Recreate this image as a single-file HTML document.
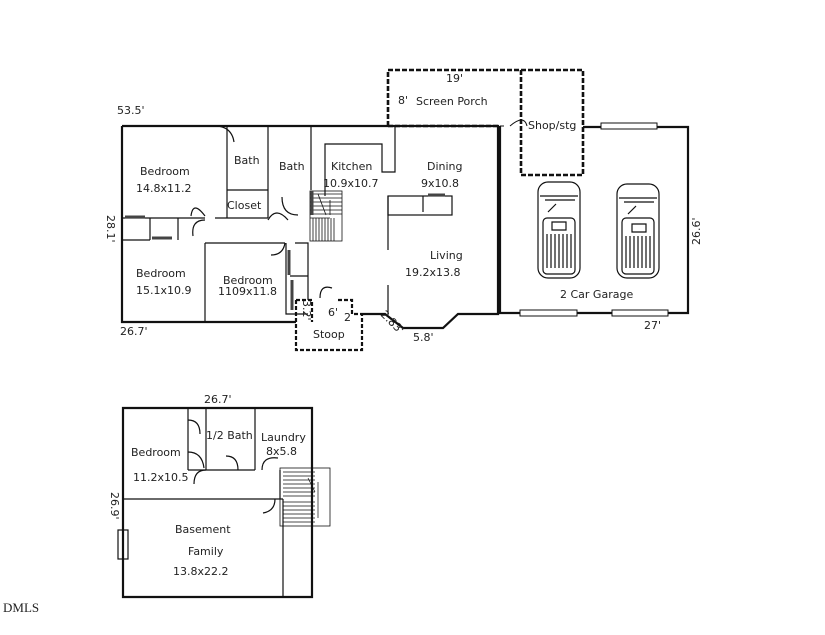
<!DOCTYPE html>
<html><head><meta charset="utf-8"><style>
html,body{margin:0;padding:0;background:#fff;width:825px;height:635px;overflow:hidden}
svg text{font-family:"DejaVu Sans","Liberation Sans",sans-serif;font-size:11px;fill:#222}
</style></head><body>
<svg width="825" height="635" viewBox="0 0 825 635" xmlns="http://www.w3.org/2000/svg">
<g fill="none" stroke="#111">
<path d="M122,126 H498 V314 H458 L443,328 H403 L385,314 H362 M296,322 H122 V126" stroke-width="2.2"/>
<path d="M296,300 H312 V322 M296,300 V350 H362 V314 M338,300 H352 V314 H362" stroke-width="2.2" stroke-dasharray="4,2"/>
<path d="M388,126 V70 H583 V175 H521 V126 M388,126 H498" stroke-width="2.6" stroke-dasharray="5,2"/>
<path d="M521,70 V126" stroke-width="2.6" stroke-dasharray="5,2"/>
<path d="M500,126 V313 H688 V127 H583" stroke-width="2.2"/>
<rect x="601" y="123" width="56" height="6" fill="#fff" stroke-width="1"/>
<rect x="520" y="310" width="57" height="6" fill="#fff" stroke-width="1"/>
<rect x="612" y="310" width="56" height="6" fill="#fff" stroke-width="1"/>
<path d="M500,126 h4 M510,126 q14,-12 17,0" stroke-width="1"/>
<g stroke-width="1.2">
<path d="M227,126 V218 M268,126 V218 M311,126 V190 M227,190 H268 M122,218 H205 M215,218 H268"/>
<path d="M205,243 H285 M205,243 V322 M122,240 H150 M178,240 V218 M150,240 V218"/>
<path d="M325,196 V144 H382 V172 H395 V126"/>
<path d="M388,196 V250 M388,285 V314"/>
<rect x="388" y="196" width="64" height="19"/>
<path d="M423,196 V212"/>
<path d="M286,243 V314 H308 M295,243 H308 V300 M290,276 H308"/>
<path d="M218,126 q14,2 16,16 M205,216 q-12,-16 -14,0 M205,220 q-14,0 -12,16 M268,220 q8,-14 20,0 M285,243 q-2,12 -14,12"/>
<path d="M282,197 q0,18 16,18"/>
<path d="M320,298 q0,-14 12,-10"/>
</g>
<g stroke-width="0.8">
<rect x="310" y="191" width="32" height="50"/>
<path d="M310,194 h32 M310,198 h32 M310,202 h32 M310,206 h32 M310,210 h32 M310,214 h32 M310,218 h20"/>
<path d="M313,218 V241 M316,218 V241 M319,218 V241 M322,218 V241 M325,218 V241 M328,218 V241 M331,218 V241 M334,218 V241"/>
<path d="M318,194 L326,215 M330,200 V215"/>
</g>
<g stroke-width="3" stroke="#444">
<path d="M125,217 H145 M152,238 H172 M312,191 V215 M289,250 V275 M292,280 V310 M428,195 H445"/>
</g>
<g stroke-width="1.2">
<rect x="538" y="182" width="42" height="96" rx="10"/>
<rect x="543" y="218" width="32" height="56" rx="4"/>
<path d="M540,196 H578 M545,200 L575,200 M548,212 l8,-8 M552,222 h14 v8 h-14z M547,234 V268 M551,234 V268 M555,234 V268 M559,234 V268 M563,234 V268 M567,234 V268 M571,234 V268"/>
<rect x="617" y="184" width="42" height="94" rx="10"/>
<rect x="622" y="218" width="32" height="56" rx="4"/>
<path d="M619,198 H657 M624,202 L654,202 M628,214 l8,-8 M632,224 h14 v8 h-14z M626,236 V268 M630,236 V268 M634,236 V268 M638,236 V268 M642,236 V268 M646,236 V268 M650,236 V268"/>
</g>
<path d="M123,408 H312 V597 H123 Z" stroke-width="2.2"/>
<g stroke-width="1.2">
<path d="M123,499 H283 M188,408 V470 M206,408 V470 M255,408 V470 M188,470 H255 M283,499 V597"/>
<path d="M188,420 q12,0 12,14 M188,452 q14,0 16,16 M206,470 q-12,0 -12,14 M238,470 q0,-14 -12,-14 M262,470 q0,-14 16,-12 M275,499 q0,12 -12,14 M280,470 V499"/>
<rect x="280" y="468" width="50" height="58" stroke-width="0.8"/>
<path d="M283,472 h32 M283,476 h32 M283,480 h32 M283,484 h32 M283,488 h32 M283,492 h32 M283,496 h32 M283,502 h32 M283,506 h32 M283,510 h32 M283,514 h32 M283,518 h32 M283,522 h32 M318,482 V518 M308,478 L315,492" stroke-width="0.7"/>
<rect x="118" y="530" width="10" height="29"/>
</g>
</g>
<text x="117" y="114">53.5'</text>
<text x="446" y="82">19'</text>
<text x="398" y="104">8'</text>
<text x="416" y="105">Screen Porch</text>
<text x="528" y="129">Shop/stg</text>
<text x="140" y="175">Bedroom</text>
<text x="136" y="192">14.8x11.2</text>
<text x="234" y="164">Bath</text>
<text x="279" y="170">Bath</text>
<text x="331" y="170">Kitchen</text>
<text x="323" y="187">10.9x10.7</text>
<text x="427" y="170">Dining</text>
<text x="421" y="187">9x10.8</text>
<text x="227" y="209">Closet</text>
<text x="136" y="277">Bedroom</text>
<text x="136" y="294">15.1x10.9</text>
<text x="223" y="284">Bedroom</text>
<text x="218" y="295">1109x11.8</text>
<text x="430" y="259">Living</text>
<text x="405" y="276">19.2x13.8</text>
<text x="560" y="298">2 Car Garage</text>
<text x="644" y="329">27'</text>
<text x="120" y="335">26.7'</text>
<text x="328" y="316">6'</text>
<text x="344" y="321">2</text>
<text x="313" y="338">Stoop</text>
<text x="413" y="341">5.8'</text>
<text transform="translate(107,215) rotate(90)">28.1'</text>
<text transform="translate(700,245) rotate(-90)">26.6'</text>
<text transform="translate(303,300) rotate(90)">3.2'</text>
<text transform="translate(380,315) rotate(45)">2.83'</text>
<text x="204" y="403">26.7'</text>
<text x="131" y="456">Bedroom</text>
<text x="133" y="481">11.2x10.5</text>
<text x="206" y="439">1/2 Bath</text>
<text x="261" y="441">Laundry</text>
<text x="266" y="455">8x5.8</text>
<text transform="translate(111,492) rotate(90)">26.9'</text>
<text x="175" y="533">Basement</text>
<text x="188" y="555">Family</text>
<text x="173" y="575">13.8x22.2</text>
<text x="3" y="612" style="font-family:'Liberation Serif',serif;font-size:13px">DMLS</text>
</svg>
</body></html>
